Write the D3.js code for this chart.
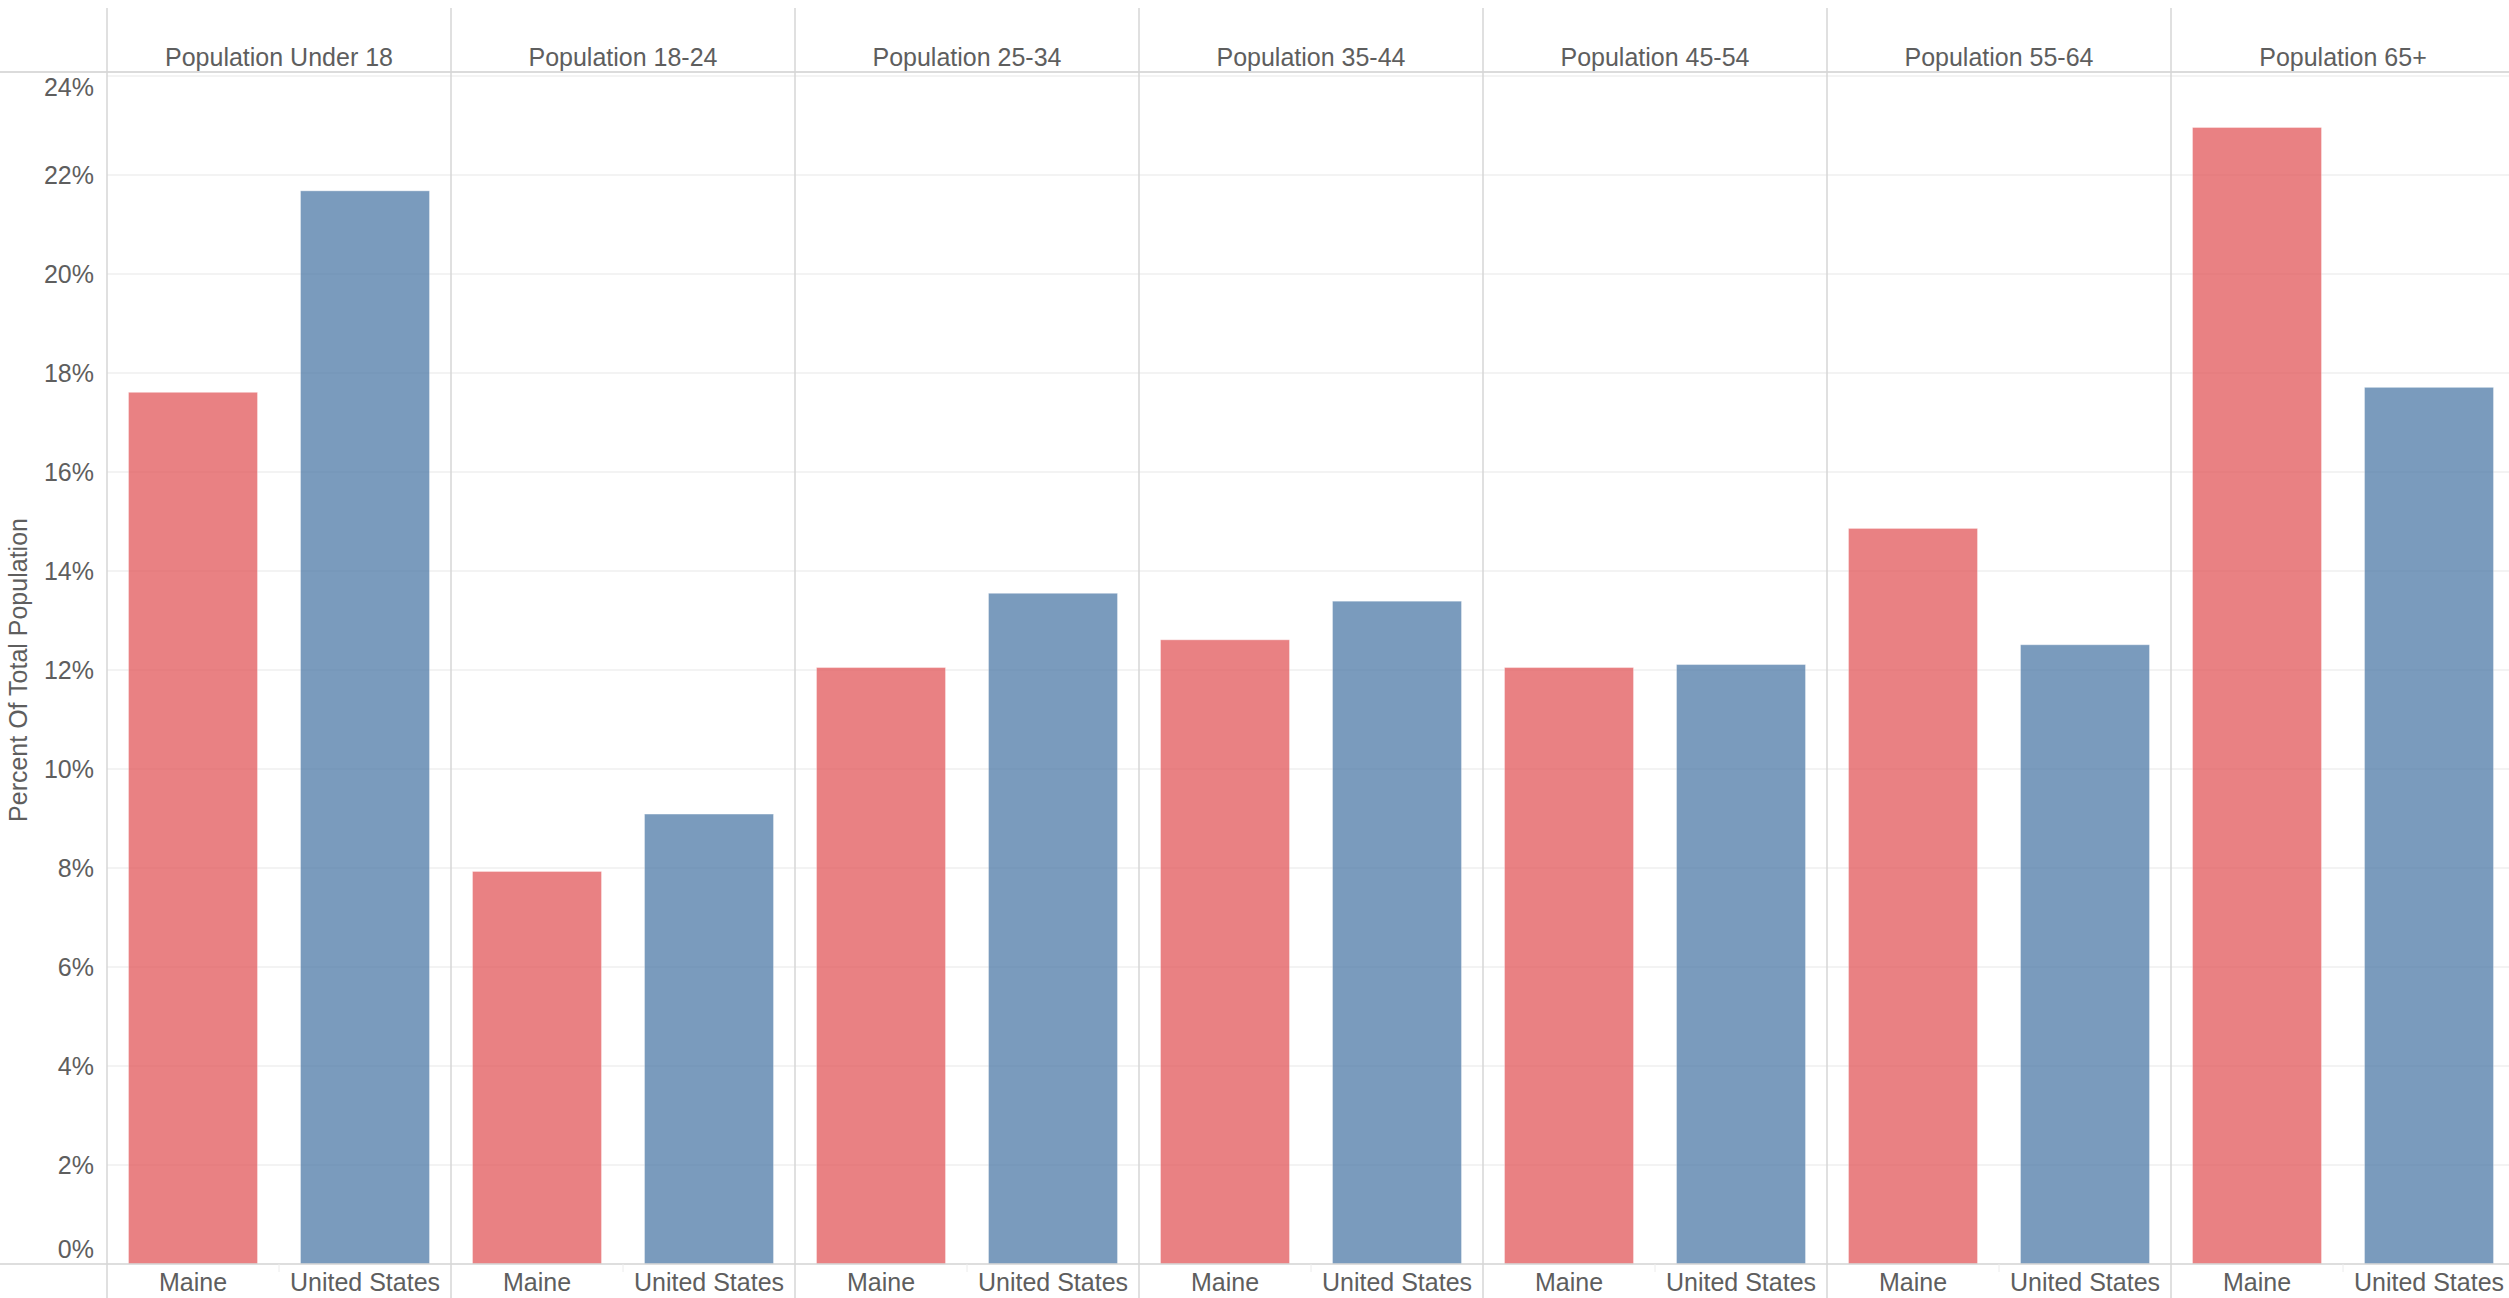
<!DOCTYPE html>
<html>
<head>
<meta charset="utf-8">
<script src="https://cdn.jsdelivr.net/npm/d3@7"></script>
<style>
  html, body { margin: 0; padding: 0; background: #fff; }
  svg { display: block; }
  text { font-family: "Liberation Sans", Arial, sans-serif; fill: #5e5e5e; }
</style>
</head>
<body>
<svg id="chart" width="2509" height="1298"></svg>
<script>
const ageGroups = ["Population Under 18", "Population 18-24", "Population 25-34", "Population 35-44", "Population 45-54", "Population 55-64", "Population 65+"];
const regions = ["Maine", "United States"];
const maineValues = [17.61, 7.93, 12.05, 12.61, 12.05, 14.86, 22.96];
const usValues = [21.68, 9.09, 13.55, 13.39, 12.11, 12.51, 17.71];
const yTicks = [0, 2, 4, 6, 8, 10, 12, 14, 16, 18, 20, 22, 24];
const yTitle = "Percent Of Total Population";

(function () {
const W = 2509, H = 1298;
const plotLeft = 107, panelW = 344;
const plotTop = 76, plotBottom = 1264;
const headerLineY = 72;
const colors = { "Maine": "#e15759", "United States": "#4e79a7" };

const svg = d3.select("#chart");

const x0 = d3.scaleBand().domain(ageGroups).range([plotLeft, plotLeft + panelW * ageGroups.length]).padding(0);
const x1 = d3.scaleBand().domain(regions).range([0, x0.bandwidth()]).paddingInner(0.25).paddingOuter(0.125);
const y = d3.scaleLinear().domain([0, 24]).range([plotBottom, plotTop]);

// gridlines
svg.append("g").selectAll("line").data(yTicks.filter(t => t > 0)).join("line")
  .attr("x1", plotLeft).attr("x2", W)
  .attr("y1", d => y(d)).attr("y2", d => y(d))
  .attr("stroke", "#efefef").attr("stroke-width", 1.5);

// bars
const data = [];
ageGroups.forEach((g, i) => {
  data.push({ group: g, region: "Maine", value: maineValues[i] });
  data.push({ group: g, region: "United States", value: usValues[i] });
});
svg.append("g").selectAll("rect").data(data).join("rect")
  .attr("x", d => x0(d.group) + x1(d.region))
  .attr("width", x1.bandwidth())
  .attr("y", d => y(d.value))
  .attr("height", d => y(0) - y(d.value))
  .attr("fill", d => colors[d.region])
  .attr("fill-opacity", 0.75)
  .attr("stroke", "#ffffff").attr("stroke-opacity", 0.35).attr("stroke-width", 1);

// header horizontal line and baseline
svg.append("line").attr("x1", 0).attr("x2", W).attr("y1", headerLineY).attr("y2", headerLineY)
  .attr("stroke", "#cfcfcf").attr("stroke-width", 1.5);
svg.append("line").attr("x1", 0).attr("x2", W).attr("y1", y(0)).attr("y2", y(0))
  .attr("stroke", "#d3d3d3").attr("stroke-width", 1.5);

// panel dividers
const dividers = ageGroups.map(g => x0(g)).concat([x0.range()[1]]);
svg.append("g").selectAll("line").data(dividers).join("line")
  .attr("x1", d => d).attr("x2", d => d)
  .attr("y1", 8).attr("y2", H)
  .attr("stroke", "#d6d6d6").attr("stroke-width", 1.5);

// small ticks between region labels
svg.append("g").selectAll("line").data(ageGroups).join("line")
  .attr("x1", d => x0(d) + x0.bandwidth() / 2).attr("x2", d => x0(d) + x0.bandwidth() / 2)
  .attr("y1", y(0)).attr("y2", y(0) + 8)
  .attr("stroke", "#ececec").attr("stroke-width", 1);

// header labels
svg.append("g").selectAll("text").data(ageGroups).join("text")
  .attr("x", d => x0(d) + x0.bandwidth() / 2)
  .attr("y", 57)
  .attr("text-anchor", "middle").attr("dominant-baseline", "central")
  .attr("font-size", 25)
  .text(d => d);

// region labels
svg.append("g").selectAll("text").data(data).join("text")
  .attr("x", d => x0(d.group) + x1(d.region) + x1.bandwidth() / 2)
  .attr("y", 1282)
  .attr("text-anchor", "middle").attr("dominant-baseline", "central")
  .attr("font-size", 25)
  .text(d => d.region);

// y tick labels
svg.append("g").selectAll("text").data(yTicks).join("text")
  .attr("x", 94)
  .attr("y", d => d === 0 ? y(d) - 15 : (d === 24 ? y(d) + 11 : y(d)))
  .attr("text-anchor", "end").attr("dominant-baseline", "central")
  .attr("font-size", 25)
  .text(d => d + "%");

// y title
svg.append("text")
  .attr("transform", `translate(18, ${(plotTop + plotBottom) / 2}) rotate(-90)`)
  .attr("text-anchor", "middle").attr("dominant-baseline", "central")
  .attr("font-size", 25)
  .text(yTitle);
})();
</script>
</body>
</html>
